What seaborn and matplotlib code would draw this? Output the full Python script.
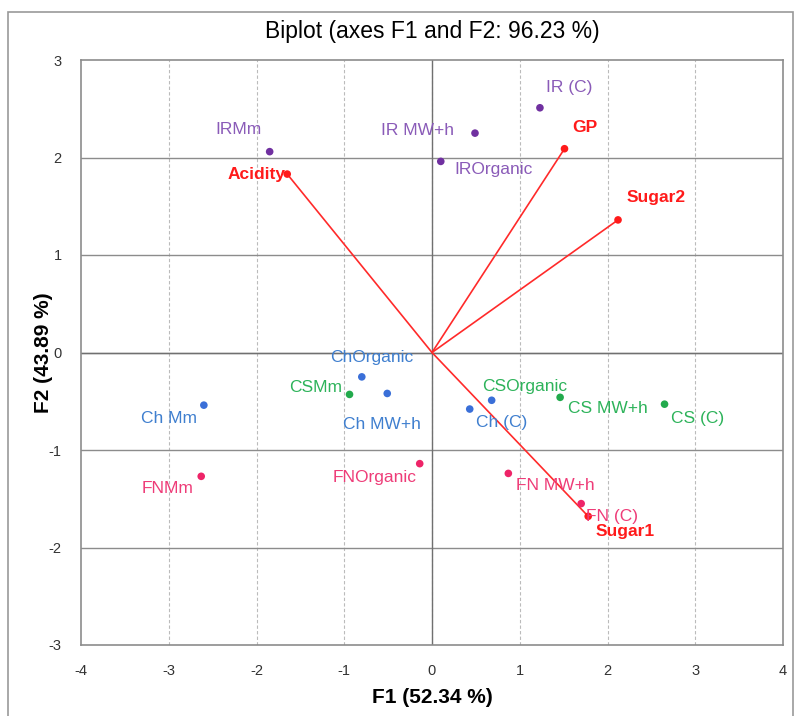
import seaborn as sns
import matplotlib.pyplot as plt
import pandas as pd

# observations (F1, F2 scores)
obs_names = ["IRMm", "IR MW+h", "IROrganic", "IR (C)",
             "Ch Mm", "ChOrganic", "Ch MW+h", "Ch (C)", "",
             "CSMm", "CS MW+h", "CS (C)",
             "FNMm", "FNOrganic", "FN MW+h", "FN (C)"]
obs_group = ["IR", "IR", "IR", "IR",
             "Ch", "Ch", "Ch", "Ch", "Ch",
             "CS", "CS", "CS",
             "FN", "FN", "FN", "FN"]
obs_f1 = [-1.85, 0.49, 0.10, 1.23,
          -2.60, -0.80, -0.51, 0.43, 0.68,
          -0.94, 1.46, 2.65,
          -2.63, -0.14, 0.87, 1.70]
obs_f2 = [2.06, 2.25, 1.96, 2.51,
          -0.54, -0.25, -0.42, -0.58, -0.49,
          -0.43, -0.46, -0.53,
          -1.27, -1.14, -1.24, -1.55]

# variables (loadings)
var_names = ["Acidity", "GP", "Sugar2", "Sugar1"]
var_f1 = [-1.65, 1.51, 2.12, 1.78]
var_f2 = [1.83, 2.09, 1.36, -1.68]

palette = {"IR": "#7030A0", "Ch": "#3A6FD8", "CS": "#22AA4C", "FN": "#EE2468"}
label_colors = {"IR": "#8A5BB8", "Ch": "#3F7FCF", "CS": "#2DB35A", "FN": "#EE3C78"}

# label offsets in pixels (dx, dy) from the point
obs_offsets = {"IRMm": (-31, 22), "IR MW+h": (-57, 3), "IROrganic": (53, -8), "IR (C)": (29, 20),
               "Ch Mm": (-35, -13), "ChOrganic": (10, 19), "Ch MW+h": (-5, -31), "Ch (C)": (32, -13),
               "CSMm": (-34, 7), "CS MW+h": (48, -11), "CS (C)": (33, -14),
               "FNMm": (-34, -12), "FNOrganic": (-45, -14), "FN MW+h": (47, -12), "FN (C)": (31, -13)}
var_offsets = {"Acidity": (-31, 0), "GP": (20, 21), "Sugar2": (38, 22), "Sugar1": (37, -15)}

obs = pd.DataFrame({"name": obs_names, "group": obs_group, "F1": obs_f1, "F2": obs_f2})
var = pd.DataFrame({"name": var_names, "F1": var_f1, "F2": var_f2})

sns.set_theme(style="white")
plt.rcParams['font.family'] = ['Liberation Sans', 'DejaVu Sans']
plt.rcParams['axes.unicode_minus'] = False
plt.rcParams['text.color'] = 'black'
plt.rcParams['axes.labelcolor'] = 'black'

fig = plt.figure(figsize=(7.95, 7.16), dpi=100)
ax = fig.add_axes([81 / 795, 1 - 645 / 716, (783 - 81) / 795, (645 - 60) / 716])

ax.set_xlim(-4, 4)
ax.set_ylim(-3, 3)
for v in range(-3, 4):
    ax.axvline(v, color="#BBBBBB", lw=0.8, ls=(0, (3, 2)), zorder=0)
for v in range(-2, 3):
    ax.axhline(v, color="#8C8C8C", lw=1.0, zorder=0)
ax.axvline(0, color="#707070", lw=1.0, zorder=0)
ax.axhline(0, color="#707070", lw=1.0, zorder=0)

# variable vectors
for i, row in var.iterrows():
    ax.plot([0, row.F1], [0, row.F2], color="#FF2A2A", lw=1.2, zorder=2)
sns.scatterplot(data=var, x="F1", y="F2", color="#FF1A1A", s=30, edgecolor="none", ax=ax, zorder=3)
for i, row in var.iterrows():
    dx, dy = var_offsets[row["name"]]
    ax.annotate(row["name"], (row.F1, row.F2), xytext=(dx * 0.72, dy * 0.72), textcoords="offset points",
                ha="center", va="center", color="#FF1A1A", fontsize=12.5, fontweight="bold")

# observations
sns.scatterplot(data=obs, x="F1", y="F2", hue="group", palette=palette, s=30, edgecolor="none",
                legend=False, ax=ax, zorder=4)
for i, row in obs.iterrows():
    if row["name"] == "":
        continue
    dx, dy = obs_offsets[row["name"]]
    ax.annotate(row["name"], (row.F1, row.F2), xytext=(dx * 0.72, dy * 0.72), textcoords="offset points",
                ha="center", va="center", color=label_colors[row.group], fontsize=12.5)
# label next to the Ch (C) pair
ax.annotate("CSOrganic", (obs_f1[8], obs_f2[8]), xytext=(33 * 0.72, 14 * 0.72), textcoords="offset points",
            ha="center", va="center", color=label_colors["CS"], fontsize=12.5)

ax.set_xticks(range(-4, 5))
ax.set_yticks(range(-3, 4))
ax.tick_params(axis="both", labelsize=10.5, colors="#333333", length=0, pad=14)
for s in ax.spines.values():
    s.set_color("#8C8C8C")
    s.set_linewidth(1.2)

ax.set_xlabel("F1 (52.34 %)", fontsize=15, fontweight="bold", labelpad=7)
ax.set_ylabel("F2 (43.89 %)", fontsize=15, fontweight="bold", labelpad=-3)
ax.set_title("Biplot (axes F1 and F2: 96.23 %)", fontsize=16.5, pad=16)

# outer frame
fig.add_artist(plt.Rectangle((8 / 795, -0.01), (793 - 8) / 795, 1 - 12 / 716 + 0.01,
                             transform=fig.transFigure, fill=False, edgecolor="#999999", lw=1.2))

fig.savefig("out.png", dpi=100)
